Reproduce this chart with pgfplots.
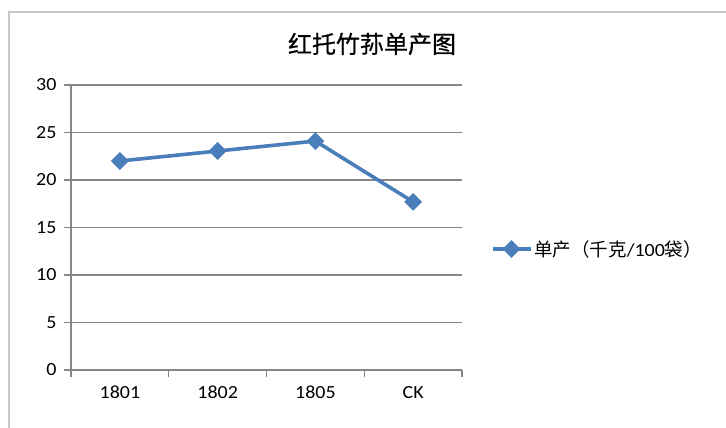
\documentclass[border=0pt]{standalone}
\usepackage{pgfplots}
\pgfplotsset{compat=1.18}
\usepackage{fontspec}
\setmainfont{Carlito}[FakeStretch=1.08]
\newfontfamily\cjk{Noto Sans CJK SC}
\newfontfamily\cjktitle{Noto Sans CJK SC}[FakeBold=0.6]
\definecolor{lineblue}{RGB}{74,126,187}
\definecolor{axgray}{RGB}{134,134,134}
\definecolor{framegray}{RGB}{200,200,200}
\begin{document}
\begin{tikzpicture}[x=1pt,y=1pt]
\path[use as bounding box] (0,0) rectangle (726,428);
\draw[framegray, line width=1.5pt] (9,0) -- (9,416) -- (726,416);
\node[font=\cjktitle\fontsize{24}{24}\selectfont] at (372,384) {红托竹荪单产图};
\begin{axis}[
  at={(71pt,58pt)}, anchor=south west,
  scale only axis, width=391pt, height=285pt,
  xmin=-0.5, xmax=3.5, ymin=0, ymax=30,
  ytick={0,5,...,30},
  xtick={0,1,2,3},
  xticklabels={1801,1802,1805,CK},
  minor xtick={-0.5,0.5,1.5,2.5,3.5},
  major x tick style={draw=none},
  tick align=outside,
  major tick length=7pt, minor tick length=7pt,
  tick style={axgray, line width=1.3pt},
  axis lines*=left,
  axis line style={axgray, line width=1.3pt},
  ymajorgrids, grid style={axgray, line width=1.3pt},
  /pgf/number format/assume math mode=true,
  ticklabel style={font=\fontsize{18.5}{18}\selectfont},
  xticklabel style={anchor=base, yshift=-22pt},
  yticklabel style={xshift=-4pt},
  legend style={at={(1.073,0.4246)}, anchor=west, draw=none, fill=none,
    font=\fontsize{18.5}{19}\selectfont, inner sep=0pt,
    legend cell align=left},
  legend image code/.code={\draw[mark repeat=2,mark phase=2,#1] plot coordinates {(0pt,0pt)(19pt,0pt)(38pt,0pt)};},
]
\addplot[lineblue, line width=3.6pt, mark=square*, mark size=4.5pt, mark options={rotate=45, solid}]
  coordinates {(0,22.0) (1,23.05) (2,24.1) (3,17.7)};
\addlegendentry{{\cjk 单产（千克}/100{\cjk 袋）}}
\end{axis}
\end{tikzpicture}
\end{document}
